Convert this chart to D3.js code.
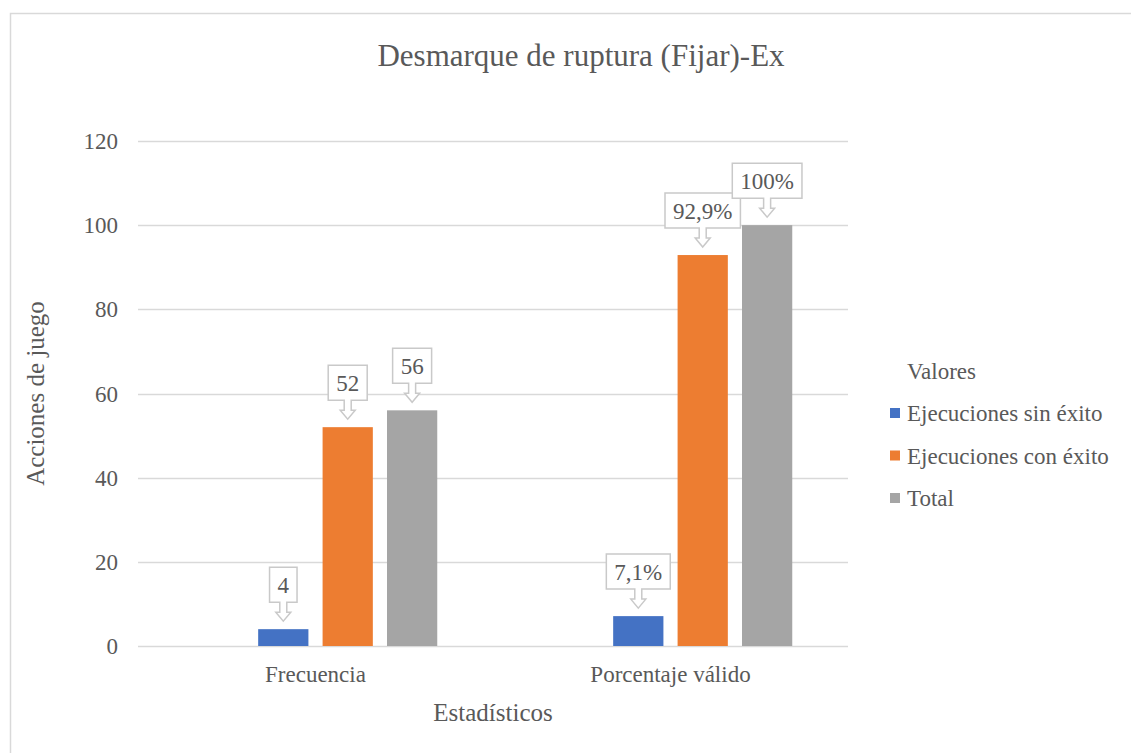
<!DOCTYPE html>
<html>
<head>
<meta charset="utf-8">
<script src="https://cdn.jsdelivr.net/npm/d3@7"></script>
<style>
  body { margin: 0; background: #fff; }
</style>
</head>
<body>
<svg id="chart" width="1131" height="753"></svg>
<script>
var categories = ['Frecuencia', 'Porcentaje válido'];
// first slot is an empty series in the original chart, it only takes space
var slots = ['(vacío)', 'Ejecuciones sin éxito', 'Ejecuciones con éxito', 'Total'];
var series = ['Ejecuciones sin éxito', 'Ejecuciones con éxito', 'Total'];
var sinExito = [4, 7.1];
var conExito = [52, 92.9];
var total = [56, 100];
var labelsSin = ['4', '7,1%'];
var labelsCon = ['52', '92,9%'];
var labelsTotal = ['56', '100%'];
var yTicks = [0, 20, 40, 60, 80, 100, 120];
var colors = ['#4472c4', '#ed7d31', '#a5a5a5'];

var svg = d3.select('#chart');
var font = '"Liberation Serif"';
var textColor = '#595959';
var margin = { top: 141, right: 283, bottom: 107, left: 138 };
var width = 1131 - margin.left - margin.right;
var height = 753 - margin.top - margin.bottom;

// chart border
svg.append('rect')
  .attr('x', 10.5).attr('y', 13.5)
  .attr('width', 1200).attr('height', 900)
  .attr('fill', 'none')
  .attr('stroke', '#d9d9d9')
  .attr('stroke-width', 1.5);

svg.append('text')
  .attr('x', 581).attr('y', 66)
  .attr('text-anchor', 'middle')
  .style('font-family', font)
  .attr('font-size', '31px')
  .attr('fill', textColor)
  .text('Desmarque de ruptura (Fijar)-Ex');

var g = svg.append('g')
  .attr('transform', 'translate(' + margin.left + ',' + margin.top + ')');

var y = d3.scaleLinear().domain([0, 120]).range([height, 0]);
var x0 = d3.scaleBand().domain(categories).range([0, width]);
var x1 = d3.scaleBand().domain(slots)
  .range([x0.bandwidth() / 2 - 121.75, x0.bandwidth() / 2 + 121.75])
  .paddingInner(0.22);

g.selectAll('line.grid')
  .data(yTicks)
  .enter().append('line')
    .attr('class', 'grid')
    .attr('x1', 0).attr('x2', width)
    .attr('y1', function(d) { return Math.round(y(d)) + 0.5; })
    .attr('y2', function(d) { return Math.round(y(d)) + 0.5; })
    .attr('stroke', '#d9d9d9')
    .attr('stroke-width', 1.3);

g.selectAll('text.ytick')
  .data(yTicks)
  .enter().append('text')
    .attr('class', 'ytick')
    .attr('x', -20)
    .attr('y', function(d) { return y(d) + 8; })
    .attr('text-anchor', 'end')
    .style('font-family', font)
    .attr('font-size', '23px')
    .attr('fill', textColor)
    .text(function(d) { return d; });

g.selectAll('text.xtick')
  .data(categories)
  .enter().append('text')
    .attr('class', 'xtick')
    .attr('x', function(d) { return x0(d) + x0.bandwidth() / 2; })
    .attr('y', height + 36)
    .attr('text-anchor', 'middle')
    .style('font-family', font)
    .attr('font-size', '23px')
    .attr('fill', textColor)
    .text(function(d) { return d; });

svg.append('text')
  .attr('x', margin.left + width / 2).attr('y', 721)
  .attr('text-anchor', 'middle')
  .style('font-family', font)
  .attr('font-size', '25px')
  .attr('fill', textColor)
  .text('Estadísticos');

svg.append('text')
  .attr('transform', 'translate(44,' + (margin.top + height / 2) + ') rotate(-90)')
  .attr('text-anchor', 'middle')
  .style('font-family', font)
  .attr('font-size', '25px')
  .attr('fill', textColor)
  .text('Acciones de juego');

var values = [sinExito, conExito, total];
var labels = [labelsSin, labelsCon, labelsTotal];
var data = [];
categories.forEach(function(c, i) {
  series.forEach(function(s, j) {
    data.push({ cat: c, name: s, value: values[j][i], label: labels[j][i], color: colors[j] });
  });
});

g.selectAll('rect.bar')
  .data(data)
  .enter().append('rect')
    .attr('class', 'bar')
    .attr('x', function(d) { return x0(d.cat) + x1(d.name); })
    .attr('y', function(d) { return y(d.value); })
    .attr('width', x1.bandwidth())
    .attr('height', function(d) { return height - y(d.value); })
    .attr('fill', function(d) { return d.color; });

// callouts
var callouts = g.selectAll('g.callout')
  .data(data)
  .enter().append('g')
    .attr('class', 'callout')
    .attr('transform', function(d) {
      return 'translate(' + (x0(d.cat) + x1(d.name) + x1.bandwidth() / 2) + ',' + y(d.value) + ')';
    });

callouts.each(function(d) {
  var c = d3.select(this);
  var t = c.append('text')
    .attr('x', 0).attr('y', -36)
    .attr('text-anchor', 'middle')
    .style('font-family', font)
    .attr('font-size', '23px')
    .attr('fill', textColor)
    .text(d.label);
  var w = t.node().getComputedTextLength() + 16;
  var top = -62, bot = -27, hw = w / 2;
  var sw = 3.5, hh = 7.5, tip = -8, neck = -17;
  var path = 'M' + (-hw) + ',' + top + 'H' + hw + 'V' + bot +
    'H' + sw + 'V' + neck + 'H' + hh + 'L0,' + tip + 'L' + (-hh) + ',' + neck +
    'H' + (-sw) + 'V' + bot + 'H' + (-hw) + 'Z';
  c.insert('path', 'text')
    .attr('d', path)
    .attr('fill', '#fff')
    .attr('stroke', '#c9c9c9')
    .attr('stroke-width', 1.5);
});

// legend
var legend = svg.append('g').attr('transform', 'translate(890,0)');
legend.append('text')
  .attr('x', 17).attr('y', 379)
  .style('font-family', font)
  .attr('font-size', '23px')
  .attr('fill', textColor)
  .text('Valores');
var items = legend.selectAll('g.item')
  .data(series)
  .enter().append('g')
    .attr('class', 'item')
    .attr('transform', function(d, i) { return 'translate(0,' + (413 + i * 42.5) + ')'; });
items.append('rect')
  .attr('x', 0).attr('y', -5)
  .attr('width', 10).attr('height', 10)
  .attr('fill', function(d, i) { return colors[i]; });
items.append('text')
  .attr('x', 17).attr('y', 8)
  .style('font-family', font)
  .attr('font-size', '23px')
  .attr('fill', textColor)
  .text(function(d) { return d; });
</script>
</body>
</html>
